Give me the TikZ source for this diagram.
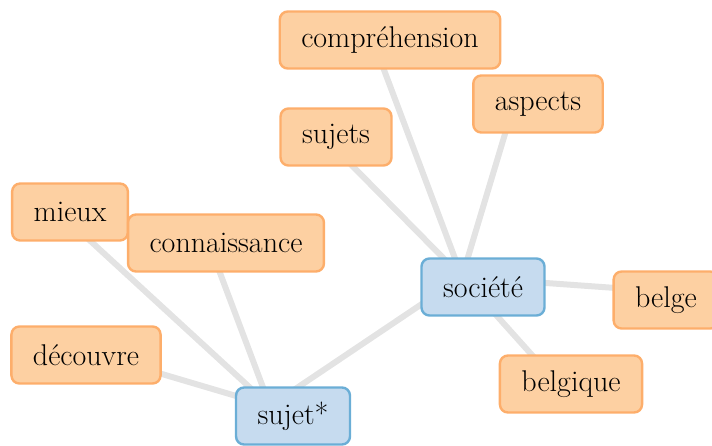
\documentclass[tikz,border=0pt]{standalone}
\usepackage{fontspec}
\usetikzlibrary{calc}
\begin{document}
\begin{tikzpicture}[x=1pt,y=-1pt,
  wordlabel/.style={draw, rounded corners=8pt, line width=2.4pt,
    inner xsep=21.5pt, inner ysep=0pt, minimum height=57pt,
    font=\fontsize{30}{33}\selectfont, text=black},
  leaf/.style={wordlabel, fill=leaffill, draw=leafedge},
  hub/.style={wordlabel, fill=hubfill, draw=hubedge},
  link/.style={draw=linkgrey, line width=6pt}
]
\definecolor{leaffill}{HTML}{FDD0A2}
\definecolor{leafedge}{HTML}{FDAE6B}
\definecolor{hubfill}{HTML}{C6DBEF}
\definecolor{hubedge}{HTML}{6BAED6}
\definecolor{linkgrey}{HTML}{E3E3E3}
\useasboundingbox (0,0) rectangle (712,445);
\clip (0,0) rectangle (712,445);

% graph vertices
\coordinate (societe) at (462,277);
\coordinate (sujetstar) at (270,406);
\coordinate (comprehension) at (369,30);
\coordinate (aspects) at (517,94);
\coordinate (sujets) at (314,127);
\coordinate (mieux) at (48,202);
\coordinate (connaissance) at (205,233);
\coordinate (decouvre) at (64,345);
\coordinate (belge) at (644,290);
\coordinate (belgique) at (549,374);

% edges
\foreach \w in {comprehension,aspects,sujets,belge,belgique,sujetstar}
  \draw[link] (societe) -- (\w);
\foreach \w in {mieux,connaissance,decouvre}
  \draw[link] (sujetstar) -- (\w);

% labels, nudged right and down from their vertices
\node[leaf] (Lcomprehension) at ($(comprehension)+(21,10)$) {compréhension};
\node[leaf] (Laspects) at ($(aspects)+(21,10)$) {aspects};
\node[leaf] (Lsujets) at ($(sujets)+(22,10)$) {sujets};
\node[leaf] (Lmieux) at ($(mieux)+(22,10)$) {mieux};
\node[leaf] (Lconnaissance) at ($(connaissance)+(21,10)$) {connaissance};
\node[leaf] (Ldecouvre) at ($(decouvre)+(22,10)$) {découvre};
\node[leaf] (Lbelge) at ($(belge)+(22,10)$) {belge};
\node[leaf] (Lbelgique) at ($(belgique)+(22,10)$) {belgique};
\node[hub] (Lsociete) at ($(societe)+(21,10)$) {société};
\node[hub] (Lsujetstar) at ($(sujetstar)+(23,10)$) {sujet*};
\end{tikzpicture}
\end{document}
